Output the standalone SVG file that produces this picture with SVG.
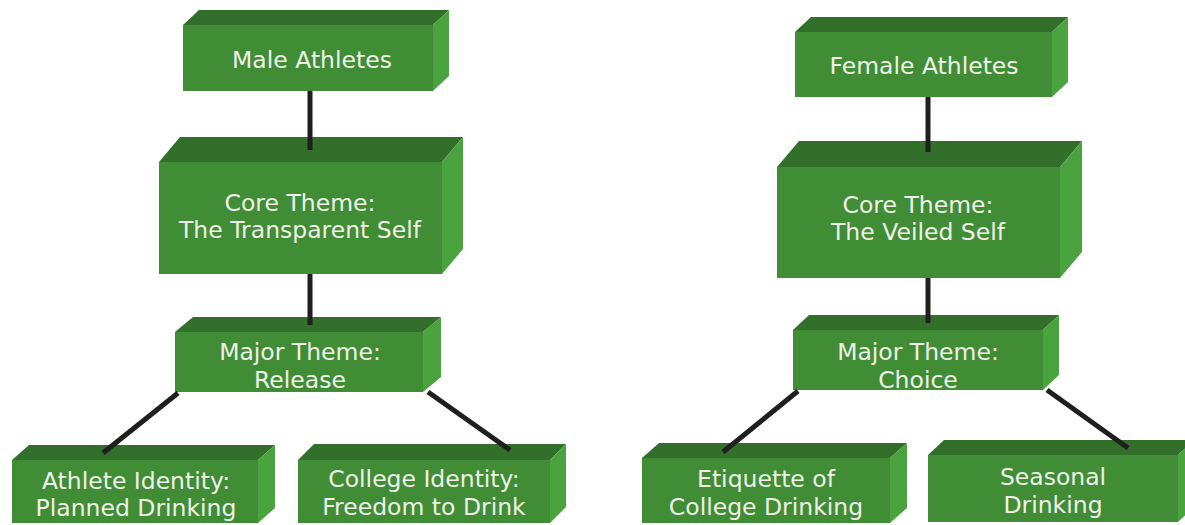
<svg xmlns="http://www.w3.org/2000/svg" width="1185" height="525" viewBox="0 0 1185 525">
<style>
.front{fill:#408d36}
.top{fill:#316f2b}
.side{fill:#4ba340}
.lbl{font-family:"DejaVu Sans","Verdana",sans-serif;font-size:23.5px;fill:#eff1e9;text-anchor:middle}
.conn{stroke:#1f1f1f;stroke-width:5;fill:none;stroke-linecap:butt}
</style>
<rect width="1185" height="525" fill="#ffffff"/>
<g id="node-male">
<rect class="front" x="183" y="25" width="250" height="66"/>
<polygon class="top" points="183,25 199,10 449,10 433,25"/>
<polygon class="side" points="433,25 449,10 449,76 433,91"/>
<text class="lbl" x="312" y="68">Male Athletes</text>
</g>
<g id="node-core-transparent">
<rect class="front" x="159" y="162" width="283" height="112"/>
<polygon class="top" points="159,162 180,137 463,137 442,162"/>
<polygon class="side" points="442,162 463,137 463,249 442,274"/>
<text class="lbl" x="300" y="211">Core Theme:</text>
<text class="lbl" x="300" y="238">The Transparent Self</text>
</g>
<g id="node-major-release">
<rect class="front" x="175" y="332" width="248" height="60"/>
<polygon class="top" points="175,332 193,317 441,317 423,332"/>
<polygon class="side" points="423,332 441,317 441,377 423,392"/>
<text class="lbl" x="300" y="360">Major Theme:</text>
<text class="lbl" x="300" y="388">Release</text>
</g>
<g id="node-athlete-identity">
<rect class="front" x="12" y="460" width="246" height="63"/>
<polygon class="top" points="12,460 29,445 275,445 258,460"/>
<polygon class="side" points="258,460 275,445 275,508 258,523"/>
<text class="lbl" x="136" y="488.5">Athlete Identity:</text>
<text class="lbl" x="136" y="516">Planned Drinking</text>
</g>
<g id="node-college-identity">
<rect class="front" x="298" y="460" width="252" height="63"/>
<polygon class="top" points="298,460 314,444 566,444 550,460"/>
<polygon class="side" points="550,460 566,444 566,507 550,523"/>
<text class="lbl" x="424" y="487">College Identity:</text>
<text class="lbl" x="424" y="514.5">Freedom to Drink</text>
</g>
<g id="node-female">
<rect class="front" x="795" y="32" width="257" height="65"/>
<polygon class="top" points="795,32 811,17 1068,17 1052,32"/>
<polygon class="side" points="1052,32 1068,17 1068,82 1052,97"/>
<text class="lbl" x="924" y="74">Female Athletes</text>
</g>
<g id="node-core-veiled">
<rect class="front" x="777" y="167" width="283" height="111"/>
<polygon class="top" points="777,167 799,141 1082,141 1060,167"/>
<polygon class="side" points="1060,167 1082,141 1082,252 1060,278"/>
<text class="lbl" x="918" y="213">Core Theme:</text>
<text class="lbl" x="918" y="240">The Veiled Self</text>
</g>
<g id="node-major-choice">
<rect class="front" x="793" y="330" width="250" height="60"/>
<polygon class="top" points="793,330 809,315 1059,315 1043,330"/>
<polygon class="side" points="1043,330 1059,315 1059,375 1043,390"/>
<text class="lbl" x="918" y="360">Major Theme:</text>
<text class="lbl" x="918" y="387.5">Choice</text>
</g>
<g id="node-etiquette">
<rect class="front" x="642" y="458" width="248" height="65"/>
<polygon class="top" points="642,458 659,443 907,443 890,458"/>
<polygon class="side" points="890,458 907,443 907,508 890,523"/>
<text class="lbl" x="766" y="487">Etiquette of</text>
<text class="lbl" x="766" y="515">College Drinking</text>
</g>
<g id="node-seasonal">
<rect class="front" x="928" y="455" width="250" height="67"/>
<polygon class="top" points="928,455 944,440 1194,440 1178,455"/>
<polygon class="side" points="1178,455 1194,440 1194,507 1178,522"/>
<text class="lbl" x="1053" y="485">Seasonal</text>
<text class="lbl" x="1053" y="513">Drinking</text>
</g>
<g id="connectors">
<line class="conn" x1="310" y1="91" x2="310" y2="150"/>
<line class="conn" x1="310" y1="274" x2="310" y2="325"/>
<line class="conn" x1="178" y1="393" x2="103" y2="453"/>
<line class="conn" x1="428" y1="392" x2="510" y2="450"/>
<line class="conn" x1="928" y1="97" x2="928" y2="152"/>
<line class="conn" x1="928" y1="278" x2="928" y2="323"/>
<line class="conn" x1="798" y1="391" x2="723" y2="452"/>
<line class="conn" x1="1047" y1="390" x2="1128" y2="448"/>
</g>
</svg>
